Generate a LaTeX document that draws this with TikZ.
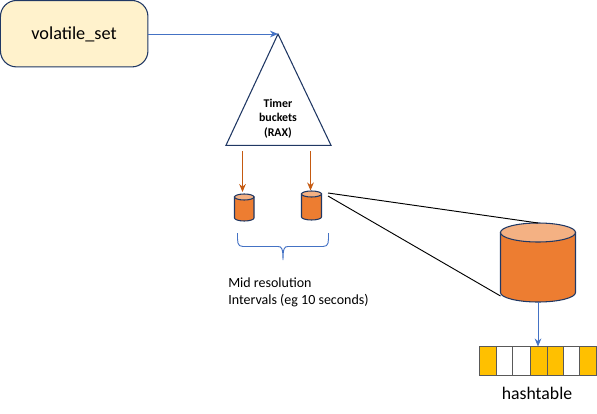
\documentclass[tikz,border=0pt]{standalone}
\usepackage{fontspec}
\setmainfont{Carlito}
\usetikzlibrary{arrows.meta,decorations.pathreplacing}
\definecolor{navy}{HTML}{203864}
\definecolor{blueline}{HTML}{4472C4}
\definecolor{rustline}{HTML}{C55A11}
\definecolor{orangefill}{HTML}{ED7D31}
\definecolor{orangetop}{HTML}{F4B183}
\definecolor{cream}{HTML}{FFF2CC}
\definecolor{gold}{HTML}{FFC000}
\tikzset{
  x=0.75pt,y=-0.75pt,
  volbox/.style={draw=navy,fill=cream,line width=0.8pt,rounded corners=12pt,minimum width=110.6pt,minimum height=49.8pt,inner sep=0pt},
  vollabel/.style={inner sep=0pt,font=\fontsize{13.7}{16}\selectfont},
  tri/.style={draw=navy,fill=white,line width=0.8pt,line join=miter},
  tlabel/.style={align=center,inner sep=0pt,font=\fontsize{8.9}{11}\selectfont\bfseries},
  blueArrow/.style={draw=blueline,line width=0.7pt,-{Stealth[length=6pt,width=5pt]}},
  rustArrow/.style={draw=rustline,line width=0.7pt,-{Stealth[length=6pt,width=5pt]}},
  cylside/.style={draw=navy,fill=orangefill,line width=0.8pt},
  cyltop/.style={draw=navy,fill=orangetop,line width=0.8pt},
  zoomline/.style={draw=black,line width=0.7pt},
  cell/.style={draw=black!65,line width=0.9pt,minimum height=21.75pt,inner sep=0pt,anchor=west},
  caption/.style={align=left,inner sep=0pt,anchor=north west,font=\fontsize{10.5}{12.75}\selectfont},
  hlabel/.style={inner sep=0pt,font=\fontsize{13.3}{15}\selectfont},
}
\newcommand{\cylinderat}[5]{% left, right, top of ellipse centre, bottom of side, ry
  \path[cylside] (#1,#3) -- (#1,#4) arc[start angle=180,end angle=0,x radius={(#2-#1)/2},y radius=#5] -- (#2,#3) -- cycle;
  \path[cyltop] ({(#1+#2)/2},#3) ellipse[x radius={(#2-#1)/2},y radius=#5];
}
\begin{document}
\begin{tikzpicture}
\useasboundingbox (0,0) rectangle (597,414);
\node[volbox] (vol) at (74.2,33.7) {};
\node[vollabel] (vollab) at (74,34.5) {volatile\_set};
\coordinate (apex) at (278,34);
\coordinate (bl) at (226,145.3);
\coordinate (br) at (331,145.3);
\path[tri] (apex) -- (bl) -- (br) -- cycle;
\node[tlabel] (timer) at (278,118.5) {Timer\\buckets\\(RAX)};
\draw[blueArrow] (vol.east |- 0,34) -- (apex);
% small cylinders
\cylinderat{234.5}{254}{197}{218}{3}
\cylinderat{301.5}{321.5}{194}{217}{3}
\coordinate (la) at (242.5,151);
\coordinate (lb) at (242.5,192);
\coordinate (ra) at (310.5,151);
\coordinate (rb) at (310.5,190.5);
\draw[rustArrow] (la) -- (lb);
\draw[rustArrow] (ra) -- (rb);
% brace
\coordinate (b1) at (237.5,233);
\coordinate (b2) at (328.5,233);
\coordinate (bt) at (283,260);
\draw[blueline,line width=0.7pt] (b1) .. controls (237.5,242) and (237,246.5) .. (243,246.5) -- (278,246.5) .. controls (281.5,246.5) and (283,248) .. (bt)
  (b2) .. controls (328.5,242) and (329,246.5) .. (323,246.5) -- (288,246.5) .. controls (284.5,246.5) and (283,248) .. (bt);
\node[caption] (mid) at (228,278) {Mid resolution\\Intervals (eg 10 seconds)};
% big cylinder
\cylinderat{500.5}{575.5}{232.5}{292.5}{9.5}
\coordinate (z0) at (328,193);
\coordinate (z1) at (328,196);
\coordinate (zt) at (538,223);
\coordinate (zb) at (500.5,296);
\draw[zoomline] (z0) -- (zt);
\draw[zoomline] (z1) -- (zb);
% hashtable
\foreach \n/\xa/\w/\c in {1/479/17/gold,2/496/16/white,3/512/18/white,4/530/17/gold,5/547/16/gold,6/563/16/white,7/579/17/gold}{
  \node[cell,fill=\c,minimum width={\w*0.75pt}] (c\n) at (\xa,361) {};
}
\coordinate (ctop) at (538,346.5);
\coordinate (cylbot) at (538,302);
\draw[blueArrow] (cylbot) -- (ctop);
\node[hlabel] (hash) at (537,393) {hashtable};
\end{tikzpicture}
\end{document}
